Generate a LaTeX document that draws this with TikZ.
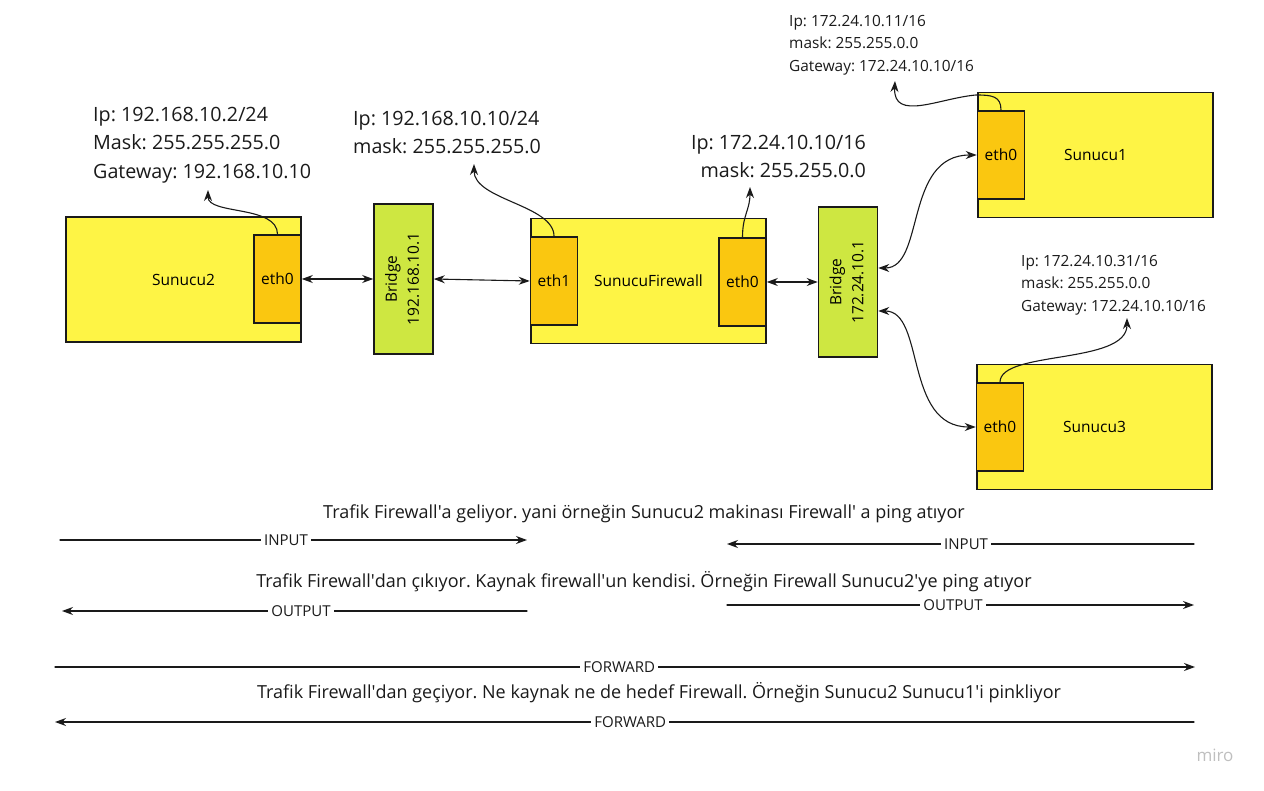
\documentclass[tikz,border=0pt]{standalone}
\usepackage{fontspec}
\setmainfont{Open Sans}
\usetikzlibrary{arrows.meta}

\definecolor{srvyellow}{HTML}{FEF445}
\definecolor{ethorange}{HTML}{FAC710}
\definecolor{brgreen}{HTML}{CEE741}
\definecolor{edgeblack}{HTML}{1A1A1A}

\newcommand{\q}{\textquotesingle}
\frenchspacing

\begin{document}
\begin{tikzpicture}[x=1pt,y=-1pt,line cap=round,
  server/.style={draw=edgeblack,line width=1.6pt,fill=srvyellow,minimum width=235pt,minimum height=125pt,font=\fontsize{15.5}{18}\selectfont},
  eth/.style={draw=edgeblack,line width=1.6pt,fill=ethorange,minimum width=47pt,minimum height=88pt,inner sep=0pt,font=\fontsize{15.5}{18}\selectfont},
  bridge/.style={draw=edgeblack,line width=1.6pt,fill=brgreen,minimum width=59pt,minimum height=150pt,inner sep=0pt,font=\fontsize{15.5}{22}\selectfont},
  link/.style={{Stealth[length=11pt,width=8pt]}-{Stealth[length=11pt,width=8pt]},line width=1.1pt,draw=edgeblack},
  ptr/.style={-{Stealth[length=11pt,width=8pt]},line width=1.1pt,draw=edgeblack},
  bigaddr/.style={font=\fontsize{19.7}{28.5}\selectfont,align=left,inner sep=0pt,text=edgeblack},
  smalladdr/.style={font=\fontsize{15.4}{22.5}\selectfont,align=left,inner sep=0pt,text=edgeblack},
  note/.style={font=\fontsize{18}{20}\selectfont,text=edgeblack},
  flowlbl/.style={fill=white,inner sep=3pt,font=\fontsize{15}{17}\selectfont,text=edgeblack}]

\useasboundingbox (0,0) rectangle (1264,791);

% --- Sunucular ---
\node[server] (s2) at (183.5,279.5) {Sunucu2};
\node[server] (fw) at (648.5,281) {SunucuFirewall};
\node[server] (s1) at (1095.5,155) {Sunucu1};
\node[server] (s3) at (1094.5,427) {Sunucu3};

% --- Arayuzler ---
\node[eth] (s2eth)  at (277.5,279) {eth0};
\node[eth] (fweth1) at (554,281)   {eth1};
\node[eth] (fweth0) at (742.5,282) {eth0};
\node[eth] (s1eth)  at (1001,155)  {eth0};
\node[eth] (s3eth)  at (1000,427)  {eth0};

% --- Bridge ---
\node[bridge] (br1) at (403.5,279) {\rotatebox{90}{\begin{tabular}{@{}c@{}}Bridge\\192.168.10.1\end{tabular}}};
\node[bridge] (br2) at (848,282)   {\rotatebox{90}{\begin{tabular}{@{}c@{}}Bridge\\172.24.10.1\end{tabular}}};

% --- Adresler ---
\node[bigaddr,anchor=north west] (s2addr) at (93,107)
  {Ip: 192.168.10.2/24\\Mask: 255.255.255.0\\Gateway: 192.168.10.10};
\node[bigaddr,anchor=north west] (fw1addr) at (353,111)
  {Ip: 192.168.10.10/24\\mask: 255.255.255.0};
\node[bigaddr,anchor=north east,align=right] (fw0addr) at (866,135)
  {Ip: 172.24.10.10/16\\mask: 255.255.0.0};
\node[smalladdr,anchor=north west] (s1addr) at (789,15)
  {Ip: 172.24.10.11/16\\mask: 255.255.0.0\\Gateway: 172.24.10.10/16};
\node[smalladdr,anchor=north west] (s3addr) at (1021,255)
  {Ip: 172.24.10.31/16\\mask: 255.255.0.0\\Gateway: 172.24.10.10/16};

\coordinate (s2tip)  at (208,190);
\coordinate (fw1tip) at (474,164);
\coordinate (fw0tip) at (750,187);
\coordinate (s1tip)  at (895,81);
\coordinate (s3tip)  at (1127,318);

% --- Baglantilar ---
\draw[link] (s2eth.east) -- (br1.west);
\draw[link] (br1.east) -- (fweth1.west);
\draw[link] (fweth0.east) -- (br2.west);
\draw[link] ([yshift=14pt]br2.east) .. controls +(47,0) and +(-73,0) .. (s1eth.west);
\draw[link] ([yshift=-29pt]br2.east) .. controls +(47,0) and +(-72,0) .. (s3eth.west);

\draw[ptr] (s2eth.north) .. controls (277.5,205) and (208,215) .. (s2tip);
\draw[ptr] (fweth1.north) .. controls (554,205) and (474,200) .. (fw1tip);
\draw[ptr] (fweth0.north) .. controls (742.5,215) and (750,210) .. (fw0tip);
\draw[ptr] (s1eth.north) .. controls (1001,96) and (992,95) .. (976,95)
  .. controls (940,98) and (893,122) .. (s1tip);
\draw[ptr] (s3eth.north) .. controls (1000,350) and (1127,365) .. (s3tip);

% --- Zincirler ---
\node[note] (inputnote) at (644,514)
  {Trafik Firewall\q a geliyor. yani örneğin Sunucu2 makinası Firewall\q{} a ping atıyor};
\coordinate (in1a) at (60,540);   \coordinate (in1b) at (527,540);
\coordinate (in2a) at (1194,544); \coordinate (in2b) at (727,544);
\draw[ptr] (in1a) -- node[flowlbl,pos=0.484] (in1lbl) {INPUT} (in1b);
\draw[ptr] (in2a) -- node[flowlbl,pos=0.488] (in2lbl) {INPUT} (in2b);

\node[note] (outputnote) at (644,582)
  {Trafik Firewall\q dan çıkıyor. Kaynak firewall\q un kendisi. Örneğin Firewall Sunucu2\q ye ping atıyor};
\coordinate (out1a) at (527,611);  \coordinate (out1b) at (62,611);
\coordinate (out2a) at (727,605);  \coordinate (out2b) at (1194,605);
\draw[ptr] (out1a) -- node[flowlbl,pos=0.486] (out1lbl) {OUTPUT} (out1b);
\draw[ptr] (out2a) -- node[flowlbl,pos=0.484] (out2lbl) {OUTPUT} (out2b);

\coordinate (fwd1a) at (55,667);   \coordinate (fwd1b) at (1195,667);
\coordinate (fwd2a) at (1194,722); \coordinate (fwd2b) at (55,722);
\draw[ptr] (fwd1a) -- node[flowlbl,pos=0.495] (fwd1lbl) {FORWARD} (fwd1b);
\node[note] (forwardnote) at (659,693)
  {Trafik Firewall\q dan geçiyor. Ne kaynak ne de hedef Firewall. Örneğin Sunucu2 Sunucu1\q i pinkliyor};
\draw[ptr] (fwd2a) -- node[flowlbl,pos=0.495] (fwd2lbl) {FORWARD} (fwd2b);

\node[font=\fontsize{17}{20}\selectfont,text=black!25] (miro) at (1215,755) {miro};

\end{tikzpicture}
\end{document}
